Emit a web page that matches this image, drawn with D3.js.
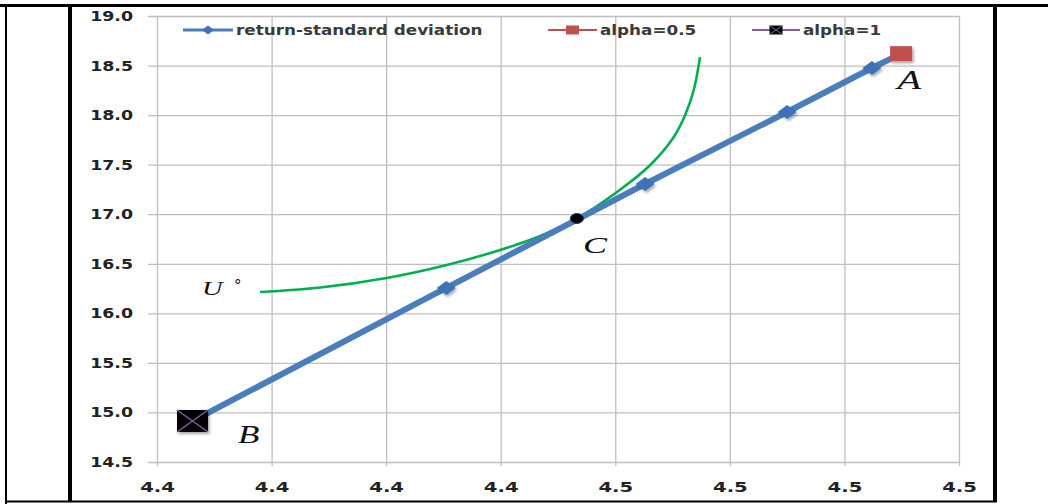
<!DOCTYPE html>
<html>
<head>
<meta charset="utf-8">
<script src="https://cdn.jsdelivr.net/npm/d3@7"></script>
<style>
  html, body { margin: 0; padding: 0; background: #fff; }
  svg { display: block; }
</style>
</head>
<body>
<div id="chart"></div>
<script>
// ticks as printed (one decimal) from the underlying values
const xTicks = [4.38, 4.40, 4.42, 4.44, 4.46, 4.48, 4.50, 4.52];
const yTicks = [14.5, 15.0, 15.5, 16.0, 16.5, 17.0, 17.5, 18.0, 18.5, 19.0];

// return-standard deviation line (B ... A)
const frontierSigma = [4.3862, 4.4305, 4.4652, 4.4900, 4.5048, 4.5099];
const frontierReturn = [14.914, 16.256, 17.305, 18.031, 18.475, 18.620];

// single-point series
const alphaHalfSigma = [4.5099];
const alphaHalfReturn = [18.620];
const alphaOneSigma = [4.3862];
const alphaOneReturn = [14.914];

// indifference curve U°
const curveSigma = [4.3980, 4.4085, 4.4201, 4.4306, 4.4399, 4.4469, 4.4533, 4.4603, 4.4661, 4.4701, 4.4722, 4.4737, 4.4748];
const curveReturn = [16.215, 16.261, 16.357, 16.488, 16.639, 16.780, 16.957, 17.224, 17.497, 17.769, 18.001, 18.253, 18.586];

// tangency point C
const tangentSigma = 4.4533;
const tangentReturn = 16.957;

const legendLabels = ["return-standard deviation", "alpha=0.5", "alpha=1"];

const width = 1048, height = 504;
const margin = {top: 16, right: 89, bottom: 42, left: 157};

const blue = "#4a7ebb", red = "#c0504d", purple = "#8064a2", green = "#00b050";

const svg = d3.select("#chart").append("svg")
  .attr("width", width)
  .attr("height", height);

const defs = svg.append("defs");
defs.append("filter")
  .attr("id", "shadow")
  .attr("x", "-50%").attr("y", "-50%").attr("width", "200%").attr("height", "200%")
  .append("feDropShadow")
  .attr("dx", 1.5).attr("dy", 2)
  .attr("stdDeviation", 1.5)
  .attr("flood-color", "#000")
  .attr("flood-opacity", 0.35);

// the glyphs in the original are horizontally stretched
function stretch(sel, k) {
  sel.each(function () {
    let w = this.getComputedTextLength();
    d3.select(this).attr("textLength", w * k).attr("lengthAdjust", "spacingAndGlyphs");
  });
}

// frame lines of the surrounding document table
const frame = svg.append("g").attr("stroke", "#000").attr("fill", "none");
frame.append("line").attr("x1", 0).attr("x2", width).attr("y1", 5.5).attr("y2", 5.5).attr("stroke-width", 3);
frame.append("line").attr("x1", 6).attr("x2", 6).attr("y1", 4).attr("y2", 504).attr("stroke-width", 2);
frame.append("line").attr("x1", 6).attr("x2", 997).attr("y1", 501.5).attr("y2", 501.5).attr("stroke-width", 2);
frame.append("line").attr("x1", 70).attr("x2", 70).attr("y1", 4).attr("y2", 502).attr("stroke-width", 4);
frame.append("line").attr("x1", 995).attr("x2", 995).attr("y1", 4).attr("y2", 502).attr("stroke-width", 4);

const x = d3.scaleLinear()
  .domain([xTicks[0], xTicks[xTicks.length - 1]])
  .range([margin.left, width - margin.right]);

const y = d3.scaleLinear()
  .domain([yTicks[0], yTicks[yTicks.length - 1]])
  .range([height - margin.bottom, margin.top]);

const plotW = x.range()[1] - x.range()[0];
const plotH = y.range()[0] - y.range()[1];

// y axis with full-width grid
const yAxis = svg.append("g")
  .attr("transform", `translate(${margin.left - 9},0)`)
  .call(d3.axisLeft(y).tickValues(yTicks).tickSize(-(plotW + 9)).tickPadding(15).tickFormat(d3.format(".1f")));
yAxis.select(".domain").remove();
yAxis.selectAll(".tick line").attr("stroke", "#bfbfbf").attr("stroke-width", 1.3);
yAxis.selectAll(".tick text")
  .attr("font-family", "DejaVu Sans")
  .attr("font-weight", "bold")
  .attr("font-size", 14)
  .attr("fill", "#222")
  .call(stretch, 1.24);

// x axis with full-height grid
const xAxis = svg.append("g")
  .attr("transform", `translate(0,${y.range()[0] + 4})`)
  .call(d3.axisBottom(x).tickValues(xTicks).tickSize(-(plotH + 4)).tickPadding(16).tickFormat(d3.format(".1f")));
xAxis.select(".domain").remove();
xAxis.selectAll(".tick line").attr("stroke", "#bfbfbf").attr("stroke-width", 1.3);
xAxis.selectAll(".tick text")
  .attr("font-family", "DejaVu Sans")
  .attr("font-weight", "bold")
  .attr("font-size", 14)
  .attr("fill", "#222")
  .call(stretch, 1.4);

// indifference curve
const curvePts = curveSigma.map((s, i) => [s, curveReturn[i]]);
svg.append("path")
  .datum(curvePts)
  .attr("fill", "none")
  .attr("stroke", green)
  .attr("stroke-width", 2.6)
  .attr("d", d3.line().x(d => x(d[0])).y(d => y(d[1])).curve(d3.curveCatmullRom.alpha(0.5)));

// return-standard deviation line
const frontier = frontierSigma.map((s, i) => [s, frontierReturn[i]]);
svg.append("path")
  .datum(frontier)
  .attr("fill", "none")
  .attr("stroke", blue)
  .attr("stroke-width", 6)
  .attr("d", d3.line().x(d => x(d[0])).y(d => y(d[1])));

const diamond = (w, h) => `M0,${-h / 2}L${w / 2},0L0,${h / 2}L${-w / 2},0Z`;

svg.append("g")
  .selectAll("path")
  .data(frontier.slice(1, -1))
  .join("path")
  .attr("d", diamond(19, 14))
  .attr("fill", "#3d72b8")
  .attr("filter", "url(#shadow)")
  .attr("transform", d => `translate(${x(d[0])},${y(d[1])})`);

// tangency point
svg.append("ellipse")
  .attr("cx", x(tangentSigma))
  .attr("cy", y(tangentReturn))
  .attr("rx", 6.5)
  .attr("ry", 5)
  .attr("fill", "#000")
  .attr("stroke", "#1f3a60")
  .attr("stroke-width", 1);

// alpha=0.5 marker
svg.append("g")
  .selectAll("rect")
  .data(alphaHalfSigma.map((s, i) => [s, alphaHalfReturn[i]]))
  .join("rect")
  .attr("x", d => x(d[0]) - 11)
  .attr("y", d => y(d[1]) - 7.5)
  .attr("width", 22)
  .attr("height", 15)
  .attr("fill", red)
  .attr("filter", "url(#shadow)");

// alpha=1 marker
const one = svg.append("g")
  .selectAll("g")
  .data(alphaOneSigma.map((s, i) => [s, alphaOneReturn[i]]))
  .join("g")
  .attr("transform", d => `translate(${x(d[0])},${y(d[1])})`);
one.append("rect")
  .attr("x", -15.5).attr("y", -11).attr("width", 31).attr("height", 22)
  .attr("fill", "#000")
  .attr("filter", "url(#shadow)");
one.append("path")
  .attr("d", "M-15.5,-11L15.5,11M-15.5,11L15.5,-11")
  .attr("stroke", purple)
  .attr("stroke-width", 1.4);

// point labels
function mathLabel(text, px, py, size, k) {
  return svg.append("text")
    .attr("x", px)
    .attr("y", py)
    .attr("font-family", "Liberation Serif")
    .attr("font-style", "italic")
    .attr("font-size", size)
    .attr("fill", "#111")
    .text(text)
    .call(stretch, k);
}
mathLabel("A", x(alphaHalfSigma[0]) - 4, y(alphaHalfReturn[0]) + 35.5, 27, 1.45);
mathLabel("B", x(alphaOneSigma[0]) + 45.5, y(alphaOneReturn[0]) + 22, 25, 1.4);
mathLabel("C", x(tangentSigma) + 6, y(tangentReturn) + 34.5, 24, 1.5);
mathLabel("U", x(curveSigma[0]) - 58, y(curveReturn[0]) + 2.5, 19, 1.5);
svg.append("text")
  .attr("x", x(curveSigma[0]) - 26)
  .attr("y", y(curveReturn[0]) - 1)
  .attr("font-family", "DejaVu Sans")
  .attr("font-size", 15)
  .attr("fill", "#111")
  .text("°");

// legend
const legendY = 30;
const legendItems = [
  {label: legendLabels[0], x0: 183, x1: 233, color: blue, marker: "diamond"},
  {label: legendLabels[1], x0: 548, x1: 597, color: red, marker: "red"},
  {label: legendLabels[2], x0: 752, x1: 800, color: purple, marker: "black"}
];
const legend = svg.append("g")
  .selectAll("g")
  .data(legendItems)
  .join("g");
legend.append("line")
  .attr("x1", d => d.x0).attr("x2", d => d.x1)
  .attr("y1", legendY).attr("y2", legendY)
  .attr("stroke", d => d.color)
  .attr("stroke-width", d => d.marker === "diamond" ? 3 : 2);
legend.filter(d => d.marker === "diamond").append("path")
  .attr("d", diamond(12, 9))
  .attr("fill", "#3d72b8")
  .attr("transform", d => `translate(${(d.x0 + d.x1) / 2},${legendY})`);
legend.filter(d => d.marker === "red").append("rect")
  .attr("x", d => (d.x0 + d.x1) / 2 - 6.5).attr("y", legendY - 4.5)
  .attr("width", 13).attr("height", 9)
  .attr("fill", red);
const blk = legend.filter(d => d.marker === "black");
blk.append("rect")
  .attr("x", d => (d.x0 + d.x1) / 2 - 6.5).attr("y", legendY - 4.5)
  .attr("width", 13).attr("height", 9)
  .attr("fill", "#000");
blk.append("path")
  .attr("d", d => {
    let c = (d.x0 + d.x1) / 2;
    return `M${c - 6.5},${legendY - 4.5}L${c + 6.5},${legendY + 4.5}M${c - 6.5},${legendY + 4.5}L${c + 6.5},${legendY - 4.5}`;
  })
  .attr("stroke", purple)
  .attr("stroke-width", 1);
legend.append("text")
  .attr("x", d => d.x1 + 3)
  .attr("y", legendY + 5)
  .attr("font-family", "DejaVu Sans")
  .attr("font-weight", "bold")
  .attr("font-size", 14)
  .attr("fill", "#3a3a3a")
  .text(d => d.label)
  .call(stretch, 1.2);
</script>
</body>
</html>
